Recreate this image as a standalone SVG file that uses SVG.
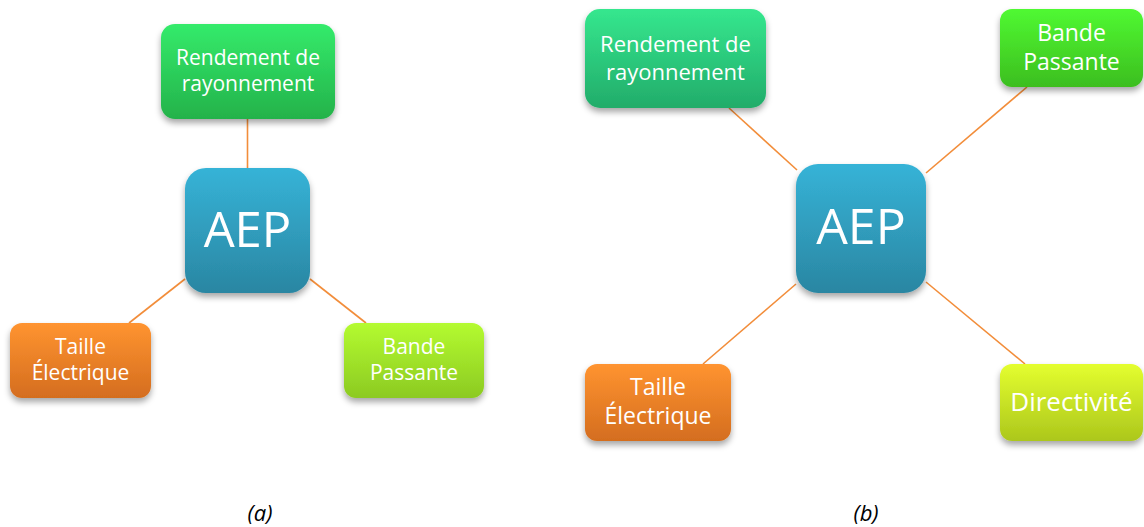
<svg xmlns="http://www.w3.org/2000/svg" width="1144" height="527" viewBox="0 0 1144 527">
  <style>
    .lbl { font-family: "Open Sans", "Noto Sans", "Liberation Sans", sans-serif; fill: #ffffff; text-anchor: middle; }
    .cap { font-family: "Open Sans", "Noto Sans", "Liberation Sans", sans-serif; fill: #000000; text-anchor: middle; font-style: italic; font-size: 22px; }
    .conn { stroke: #F28D3A; stroke-width: 1.6; fill: none; }
    .node { filter: url(#sh); }
  </style>
  <defs>
    <filter id="sh" x="-20%" y="-20%" width="140%" height="150%">
      <feDropShadow dx="0" dy="4" stdDeviation="3" flood-color="#000000" flood-opacity="0.35"/>
    </filter>
    <linearGradient id="gGreen" x1="0" y1="0" x2="0" y2="1">
      <stop offset="0" stop-color="#34EB6B"/>
      <stop offset="1" stop-color="#24B24A"/>
    </linearGradient>
    <linearGradient id="gTeal" x1="0" y1="0" x2="0" y2="1">
      <stop offset="0" stop-color="#35E78E"/>
      <stop offset="1" stop-color="#22AC6A"/>
    </linearGradient>
    <linearGradient id="gBlue" x1="0" y1="0" x2="0" y2="1">
      <stop offset="0" stop-color="#36B3D7"/>
      <stop offset="1" stop-color="#2A86A2"/>
    </linearGradient>
    <linearGradient id="gOrange" x1="0" y1="0" x2="0" y2="1">
      <stop offset="0" stop-color="#FF9430"/>
      <stop offset="1" stop-color="#D46D1F"/>
    </linearGradient>
    <linearGradient id="gLime" x1="0" y1="0" x2="0" y2="1">
      <stop offset="0" stop-color="#B4FB30"/>
      <stop offset="1" stop-color="#8CCA22"/>
    </linearGradient>
    <linearGradient id="gBright" x1="0" y1="0" x2="0" y2="1">
      <stop offset="0" stop-color="#50F932"/>
      <stop offset="1" stop-color="#3CBE1F"/>
    </linearGradient>
    <linearGradient id="gYellow" x1="0" y1="0" x2="0" y2="1">
      <stop offset="0" stop-color="#E4FE2F"/>
      <stop offset="1" stop-color="#ACC71C"/>
    </linearGradient>
  </defs>

  <g id="connectors">
    <line class="conn" x1="247.5" y1="119" x2="247.5" y2="168"/>
    <line class="conn" x1="185" y1="279" x2="129" y2="323"/>
    <line class="conn" x1="310" y1="279" x2="366" y2="323"/>
    <line class="conn" x1="729" y1="108" x2="797" y2="170"/>
    <line class="conn" x1="1027" y1="87" x2="926" y2="173"/>
    <line class="conn" x1="703" y1="364" x2="796" y2="284"/>
    <line class="conn" x1="1025" y1="364" x2="926" y2="282"/>
  </g>

  <!-- Diagram (a) -->
  <g id="a-rendement">
    <rect class="node" x="161" y="24" width="174" height="95" rx="14" fill="url(#gGreen)"/>
    <text class="lbl" x="248" y="65" font-size="21">Rendement de</text>
    <text class="lbl" x="248" y="91" font-size="21">rayonnement</text>
  </g>
  <g id="a-aep">
    <rect class="node" x="185" y="168" width="125" height="125" rx="21" fill="url(#gBlue)"/>
    <text class="lbl" x="247.5" y="246.5" font-size="49">AEP</text>
  </g>
  <g id="a-taille">
    <rect class="node" x="10" y="323" width="141" height="75" rx="12" fill="url(#gOrange)"/>
    <text class="lbl" x="80.5" y="354" font-size="21">Taille</text>
    <text class="lbl" x="80.5" y="380" font-size="21">Électrique</text>
  </g>
  <g id="a-bande">
    <rect class="node" x="344" y="323" width="140" height="75" rx="12" fill="url(#gLime)"/>
    <text class="lbl" x="414" y="354" font-size="21">Bande</text>
    <text class="lbl" x="414" y="380" font-size="21">Passante</text>
  </g>

  <!-- Diagram (b) -->
  <g id="b-rendement">
    <rect class="node" x="585" y="9" width="181" height="99" rx="15" fill="url(#gTeal)"/>
    <text class="lbl" x="675.5" y="52" font-size="22">Rendement de</text>
    <text class="lbl" x="675.5" y="80" font-size="22">rayonnement</text>
  </g>
  <g id="b-aep">
    <rect class="node" x="796" y="164" width="130" height="129" rx="22" fill="url(#gBlue)"/>
    <text class="lbl" x="861" y="244" font-size="50">AEP</text>
  </g>
  <g id="b-bande">
    <rect class="node" x="1000" y="9" width="143" height="78" rx="12" fill="url(#gBright)"/>
    <text class="lbl" x="1071.5" y="41" font-size="23">Bande</text>
    <text class="lbl" x="1071.5" y="70" font-size="23">Passante</text>
  </g>
  <g id="b-taille">
    <rect class="node" x="585" y="364" width="146" height="77" rx="12" fill="url(#gOrange)"/>
    <text class="lbl" x="658" y="395" font-size="23">Taille</text>
    <text class="lbl" x="658" y="424" font-size="23">Électrique</text>
  </g>
  <g id="b-directivite">
    <rect class="node" x="1000" y="364" width="143" height="77" rx="12" fill="url(#gYellow)"/>
    <text class="lbl" x="1071.5" y="411" font-size="26">Directivité</text>
  </g>

  <text class="cap" x="260" y="521">(a)</text>
  <text class="cap" x="866" y="521">(b)</text>
</svg>
